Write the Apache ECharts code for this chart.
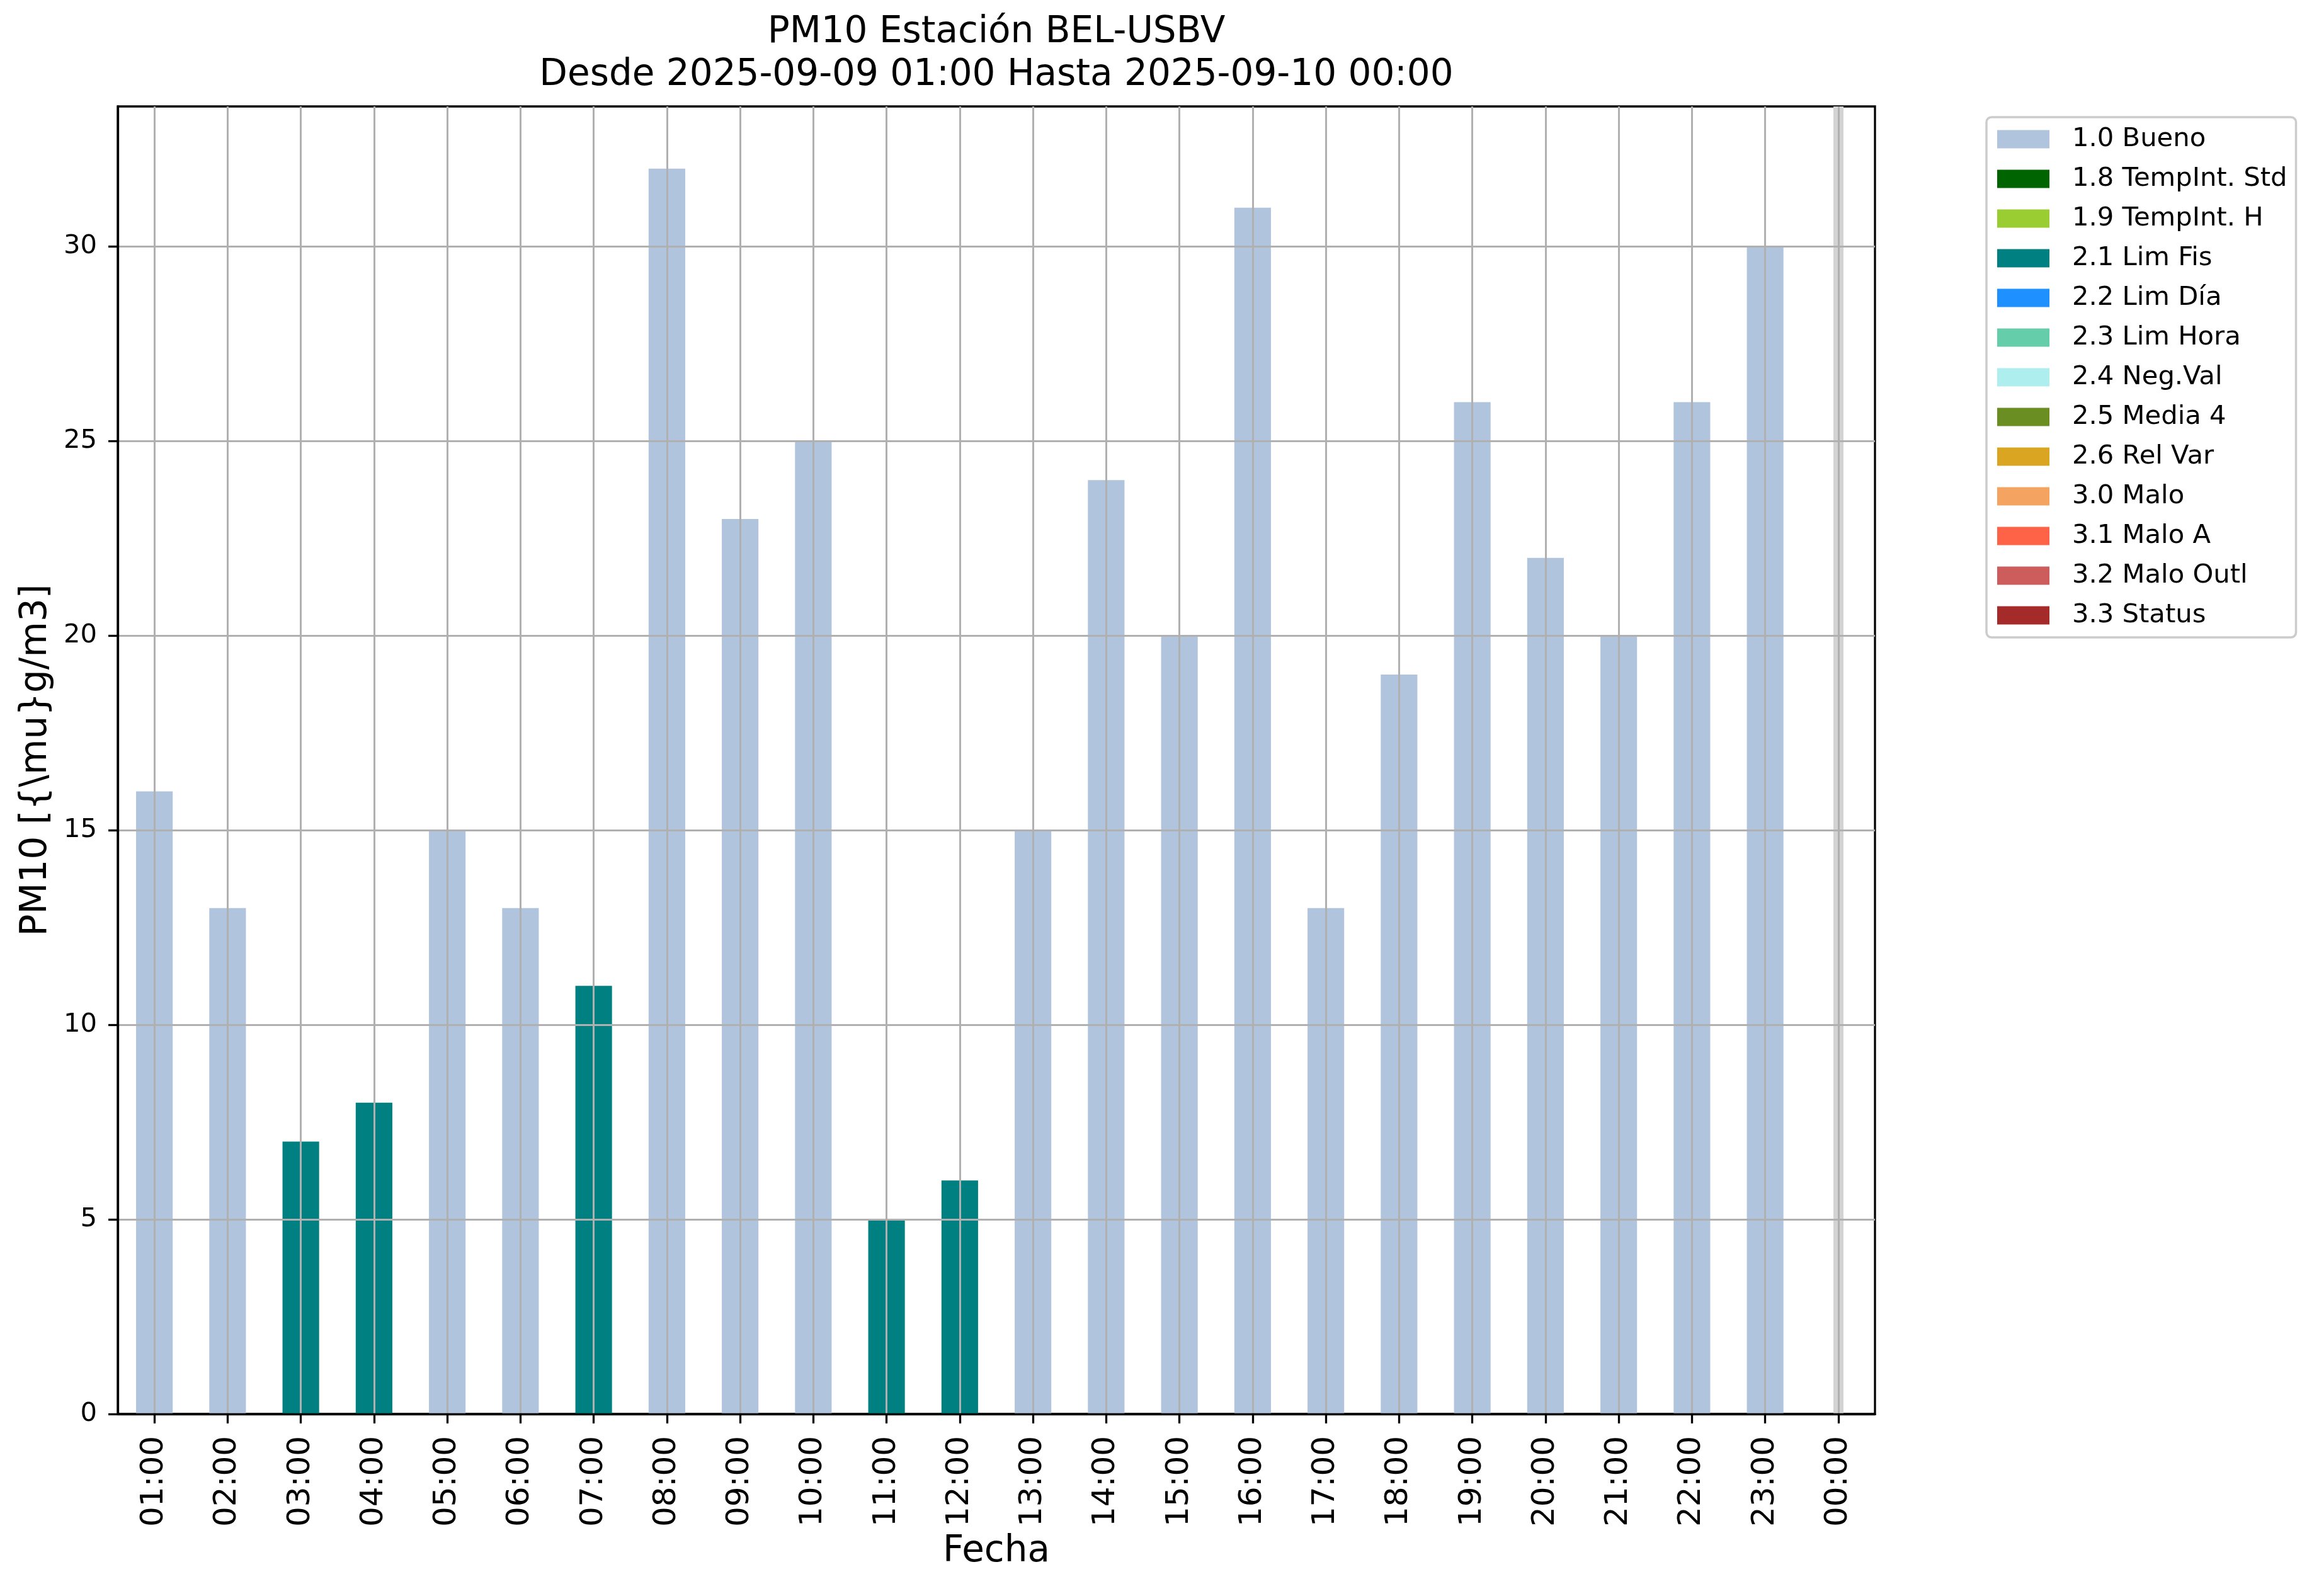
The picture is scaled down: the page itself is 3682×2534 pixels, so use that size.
<!DOCTYPE html>
<html><head><meta charset="utf-8">
<script src="https://cdn.jsdelivr.net/npm/echarts@6/dist/echarts.min.js"></script>
<style>html,body{margin:0;padding:0;background:#fff}#c{width:3682px;height:2534px}</style>
</head><body><div id="c"></div>
<script>
const categories = ['01:00','02:00','03:00','04:00','05:00','06:00','07:00','08:00','09:00','10:00','11:00','12:00',
  '13:00','14:00','15:00','16:00','17:00','18:00','19:00','20:00','21:00','22:00','23:00','00:00'];
const buenoValues  = [16,13,null,null,15,13,null,32,23,25,null,null,15,24,20,31,13,19,26,22,20,26,30,null];
const limFisValues = [null,null,7,8,null,null,11,null,null,null,5,6,null,null,null,null,null,null,null,null,null,null,null,null];
const missingCategories = ['00:00'];
const yTickValues = [0,5,10,15,20,25,30];
const flagNames = ['1.0 Bueno','1.8 TempInt. Std','1.9 TempInt. H','2.1 Lim Fis','2.2 Lim Día','2.3 Lim Hora',
  '2.4 Neg.Val','2.5 Media 4','2.6 Rel Var','3.0 Malo','3.1 Malo A','3.2 Malo Outl','3.3 Status'];
const flagColors = ['#b0c4de','#006400','#9acd32','#008080','#1e90ff','#66cdaa',
  '#afeeee','#6b8e23','#daa520','#f4a460','#ff6347','#cd5c5c','#a52a2a'];
const titleLines = ['PM10 Estación BEL-USBV','Desde 2025-09-09 01:00 Hasta 2025-09-10 00:00'];
const xAxisName = 'Fecha';
const yAxisName = 'PM10 [{\\mu}g/m3]';

const flagData = { '1.0 Bueno': buenoValues, '2.1 Lim Fis': limFisValues };
const FONT = 'DejaVu Sans';

const barSeries = flagNames.map((n, i) => ({
  name: n, type: 'bar', stack: 'flags', barWidth: '50%',
  data: flagData[n] ? flagData[n].map(v => v === null ? '-' : v) : [],
  itemStyle: { color: flagColors[i] }, z: 2,
  emphasis: { disabled: true }
}));

const bandSeries = {
  type: 'line', data: [], z: 1, silent: true,
  markLine: {
    silent: true, symbol: ['none','none'], label: { show: false }, animation: false,
    lineStyle: { color: '#d3d3d3', width: 16, type: 'solid' },
    emphasis: { disabled: true },
    data: missingCategories.map(c => ({ xAxis: c }))
  }
};
const vGridSeries = {
  type: 'line', data: [], z: 8, silent: true,
  markLine: {
    silent: true, symbol: ['none','none'], label: { show: false }, animation: false,
    lineStyle: { color: '#b0b0b0', width: 3, type: 'solid' },
    emphasis: { disabled: true },
    data: categories.map(c => ({ xAxis: c }))
  }
};
const hGridSeries = {
  type: 'line', data: [], z: 8, silent: true,
  markLine: {
    silent: true, symbol: ['none','none'], label: { show: false }, animation: false,
    lineStyle: { color: '#b0b0b0', width: 3, type: 'solid' },
    emphasis: { disabled: true },
    data: yTickValues.filter(v => v > 0).map(v => ({ yAxis: v }))
  }
};

const chart = echarts.init(document.getElementById('c'), null, { renderer: 'canvas' });
chart.setOption({
  animation: false,
  backgroundColor: '#ffffff',
  textStyle: { fontFamily: FONT },
  title: {
    text: titleLines.join('\n'), left: 1582, top: 18, padding: 0,
    textAlign: 'center', textVerticalAlign: 'top',
    textStyle: { fontFamily: FONT, fontSize: 58, fontWeight: 'normal', color: '#000', lineHeight: 68 }
  },
  legend: {
    orient: 'vertical', left: 3154, top: 186, padding: [14, 14, 14, 17],
    data: flagNames, icon: 'rect', itemWidth: 83, itemHeight: 29, itemGap: 21,
    borderColor: '#cccccc', borderWidth: 3.5, borderRadius: 8, backgroundColor: '#ffffff',
    selectedMode: false,
    textStyle: { fontFamily: FONT, fontSize: 41.7, color: '#000', lineHeight: 42, padding: [0, 0, 0, 31] }
  },
  grid: {
    left: 187, right: 705, top: 169, bottom: 289,
    show: true, borderColor: '#000', borderWidth: 3.3, backgroundColor: 'transparent'
  },
  xAxis: {
    type: 'category', data: categories, boundaryGap: true,
    name: xAxisName, nameLocation: 'middle', nameGap: 190,
    nameTextStyle: { fontFamily: FONT, fontSize: 58, color: '#000' },
    axisLine: { show: true, lineStyle: { color: '#000', width: 3.3 } },
    axisTick: { show: true, alignWithLabel: true, interval: 0, length: 15, lineStyle: { color: '#000', width: 3.3 } },
    axisLabel: { interval: 0, rotate: 90, margin: 35, fontFamily: FONT, fontSize: 50, color: '#000' },
    splitLine: { show: false }, z: 10
  },
  yAxis: {
    type: 'value', min: 0, max: 33.6, interval: 5,
    name: yAxisName, nameLocation: 'middle', nameGap: 100, nameRotate: 90,
    nameTextStyle: { fontFamily: FONT, fontSize: 58, color: '#000' },
    axisLine: { show: true, lineStyle: { color: '#000', width: 3.3 } },
    axisTick: { show: true, length: 15, customValues: yTickValues, lineStyle: { color: '#000', width: 3.3 } },
    axisLabel: { customValues: yTickValues, margin: 33, fontFamily: FONT, fontSize: 41.7, color: '#000' },
    splitLine: { show: false },
    z: 10
  },
  series: [bandSeries].concat(barSeries, [vGridSeries, hGridSeries])
});
</script></body></html>
